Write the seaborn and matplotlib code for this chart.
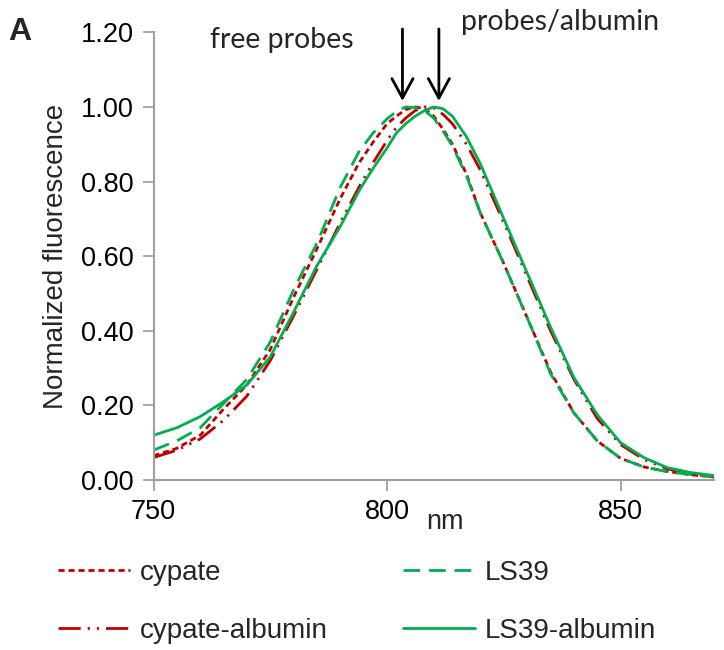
import matplotlib
matplotlib.use("Agg")
import matplotlib.pyplot as plt
import seaborn as sns
import pandas as pd

# ---- data ----
wavelength = [750, 755, 760, 765, 770, 775, 780, 785, 790, 794, 797, 800, 802, 804, 806, 808,
              810, 812, 814, 817, 820, 825, 830, 835, 840, 845, 850, 855, 860, 865, 870]
cypate = [0.065, 0.085, 0.12, 0.19, 0.255, 0.35, 0.49, 0.62, 0.755, 0.85, 0.905, 0.955, 0.975, 0.993,
          1.0, 0.995, 0.975, 0.94, 0.90, 0.82, 0.715, 0.58, 0.435, 0.29, 0.18, 0.105, 0.058,
          0.035, 0.023, 0.014, 0.008]
cypate_albumin = [0.06, 0.08, 0.11, 0.16, 0.225, 0.32, 0.44, 0.565, 0.69, 0.785, 0.85, 0.91, 0.945,
                  0.97, 0.99, 1.0, 0.997, 0.98, 0.955, 0.90, 0.83, 0.69, 0.545, 0.40, 0.27, 0.165,
                  0.095, 0.055, 0.03, 0.016, 0.008]
ls39 = [0.08, 0.105, 0.14, 0.205, 0.27, 0.37, 0.51, 0.635, 0.785, 0.88, 0.93, 0.968, 0.988, 1.0,
        0.998, 0.99, 0.97, 0.935, 0.895, 0.815, 0.715, 0.58, 0.435, 0.285, 0.18, 0.105, 0.058,
        0.035, 0.022, 0.015, 0.01]
ls39_albumin = [0.12, 0.14, 0.17, 0.21, 0.255, 0.33, 0.45, 0.575, 0.68, 0.775, 0.835, 0.89, 0.93,
                0.955, 0.975, 0.99, 1.0, 0.995, 0.975, 0.92, 0.847, 0.70, 0.555, 0.41, 0.275, 0.175,
                0.10, 0.06, 0.033, 0.02, 0.012]
series_names = ["cypate", "cypate-albumin", "LS39", "LS39-albumin"]
y_ticks = [0.0, 0.2, 0.4, 0.6, 0.8, 1.0, 1.2]
x_ticks = [750, 800, 850]

frames = []
for name, vals in zip(series_names, [cypate, cypate_albumin, ls39, ls39_albumin]):
    frames.append(pd.DataFrame({"nm": wavelength, "val": vals, "series": name}))
df = pd.concat(frames, ignore_index=True)

sns.set_theme(style="white")
plt.rcParams["font.family"] = ["Liberation Sans", "DejaVu Sans"]

fig = plt.figure(figsize=(7.24, 6.5), dpi=100)
ax = fig.add_axes([153.5 / 724, 1 - 480 / 650, (714 - 153.5) / 724, (480 - 32.3) / 650])

red = "#C00000"
green = "#00B050"
palette = {"cypate": red, "cypate-albumin": red, "LS39": green, "LS39-albumin": green}
dashes = {"cypate": (2.2, 1.4), "cypate-albumin": (8, 2.5, 0.8, 2.5, 0.8, 2.5),
          "LS39": (6, 3.2), "LS39-albumin": ""}
sns.lineplot(data=df, x="nm", y="val", hue="series", style="series", palette=palette,
             dashes=dashes, hue_order=series_names, style_order=series_names,
             linewidth=2, ax=ax, legend=True)

ax.set_xlim(750, 870)
ax.set_ylim(0, 1.2)
ax.set_xticks(x_ticks)
ax.set_yticks(y_ticks)
ax.set_yticklabels([f"{v:.2f}" for v in y_ticks])
ax.tick_params(axis="both", which="both", direction="out", length=8, width=1.3,
               color="#A0A0A0", labelsize=19.5, labelcolor="black", pad=6, left=True, bottom=True)
for s in ["top", "right"]:
    ax.spines[s].set_visible(False)
for s in ["left", "bottom"]:
    ax.spines[s].set_color("#A0A0A0")
    ax.spines[s].set_linewidth(1.5)
ax.set_xlabel("")
ax.set_ylabel("Normalized fluorescence", fontsize=20, labelpad=9)
fig.text(445 / 724, 1 - 522 / 650, "nm", fontsize=19.5, ha="center", va="center")

# legend
handles, labels = ax.get_legend_handles_labels()
ax.get_legend().remove()
order = [labels.index(n) for n in series_names]
fig.legend([handles[i] for i in order], [labels[i] for i in order], ncol=2,
           loc="upper left", bbox_to_anchor=(58 / 724, 1 - 560 / 650), frameon=False,
           fontsize=20, handlelength=2.6, handletextpad=0.35, columnspacing=2.7,
           labelspacing=1.15, borderpad=0, borderaxespad=0)

# annotations
ann_font = ["Lato", "DejaVu Sans"]
fig.text(210 / 724, 1 - 40 / 650, "free probes", fontsize=20.5, family=ann_font,
         ha="left", va="center")
fig.text(461 / 724, 1 - 22 / 650, "probes/albumin", fontsize=20.5, family=ann_font,
         ha="left", va="center")
for xa in [803.3, 811.1]:
    ax.annotate("", xy=(xa, 1.016), xytext=(xa, 1.209), xycoords="data",
                arrowprops=dict(arrowstyle="->,head_length=0.7,head_width=0.38",
                                color="black", lw=2, shrinkA=0, shrinkB=0,
                                mutation_scale=20), annotation_clip=False)
fig.text(8 / 724, 1 - 32 / 650, "A", fontsize=23, fontweight="bold", ha="left", va="center")

fig.savefig("out.png", dpi=100)
